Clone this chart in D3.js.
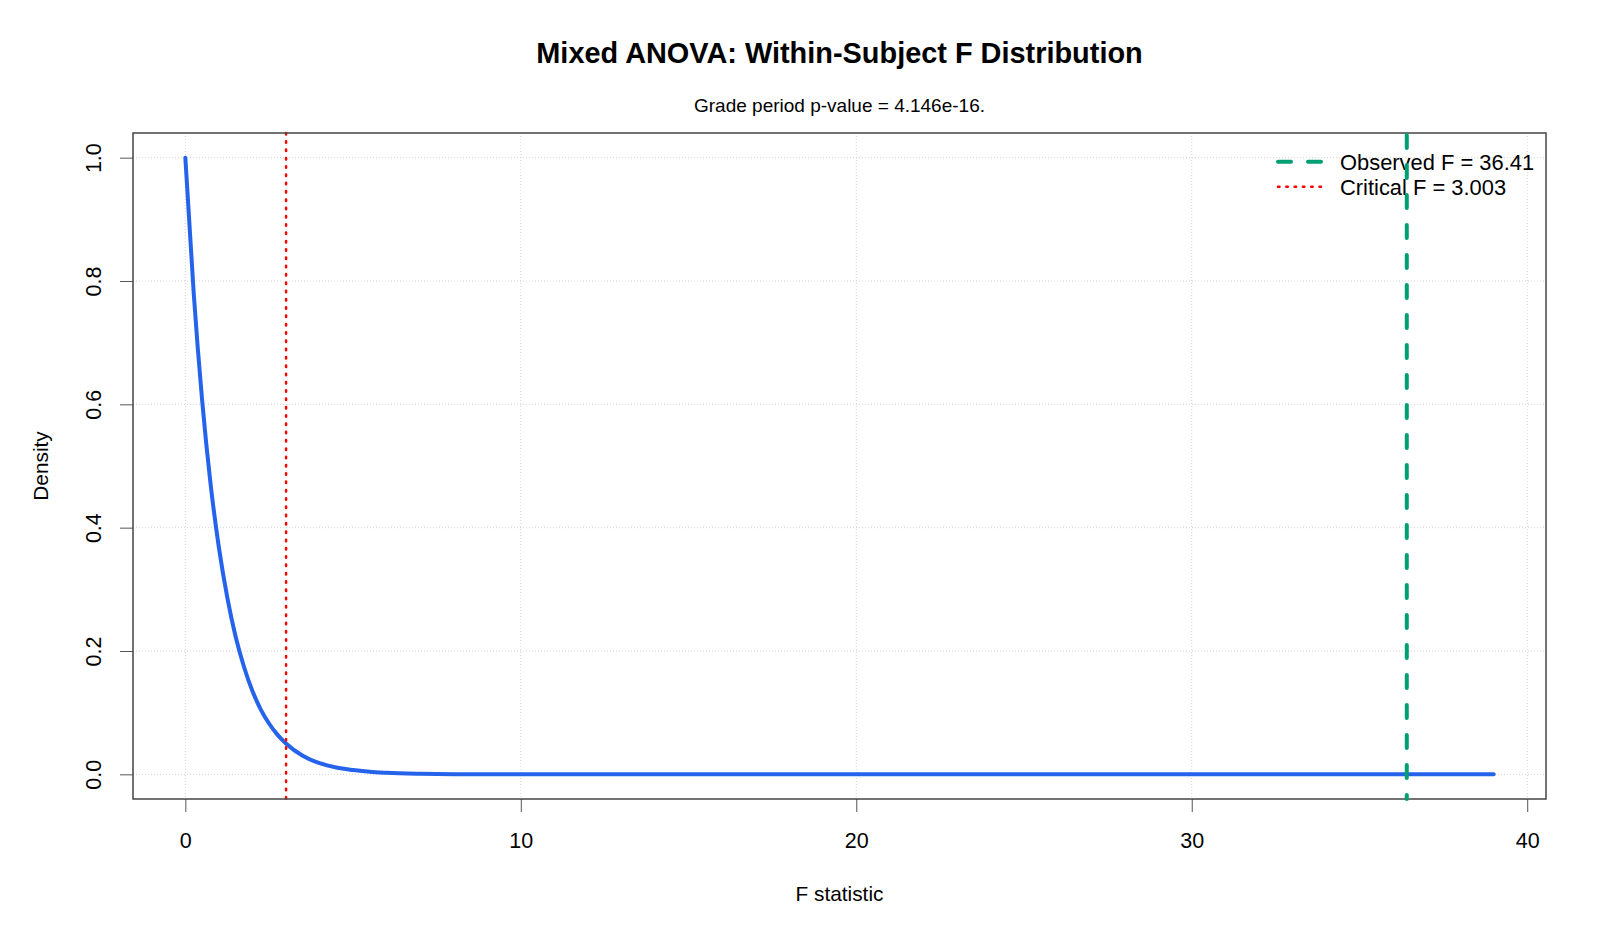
<!DOCTYPE html>
<html>
<head>
<meta charset="utf-8">
<script src="https://cdn.jsdelivr.net/npm/d3@7"></script>
<style>
  html, body { margin: 0; padding: 0; background: #fff; }
  svg { display: block; font-family: "Liberation Sans", Arial, sans-serif; }
</style>
</head>
<body>
<div id="container"></div>
<script>
// density curve
const fValues = [0, 0.25, 0.5, 0.75, 1, 1.25, 1.5, 1.75, 2, 2.25, 2.5, 2.75, 3, 3.5, 4, 4.5, 5, 5.5, 6, 7, 8, 10, 15, 20, 25, 30, 35, 39];
const density = [1.0, 0.78, 0.607, 0.472, 0.368, 0.287, 0.223, 0.174, 0.135, 0.105, 0.082, 0.064, 0.05, 0.03, 0.018, 0.011, 0.007, 0.004, 0.0025, 0.001, 0.0003, 0, 0, 0, 0, 0, 0, 0];
const xTicks = [0, 10, 20, 30, 40];
const yTicks = [0, 0.2, 0.4, 0.6, 0.8, 1.0];
const observedF = 36.41;
const criticalF = 3.003;
const legendLabels = ["Observed F = 36.41", "Critical F = 3.003"];
const titleText = "Mixed ANOVA: Within-Subject F Distribution";
const subtitleText = "Grade period p-value = 4.146e-16.";

const width = 1600, height = 933;
const plot = { left: 133, right: 1546, top: 133, bottom: 799 };
const colors = { curve: "#2563eb", observed: "#009e73", critical: "#ff0000", grid: "#d3d3d3", box: "#444" };

const svg = d3.select("#container").append("svg")
  .attr("width", width)
  .attr("height", height);

// R style 4% padding on both axes
const xExt = d3.extent(fValues), yExt = d3.extent(density);
const xPad = (xExt[1] - xExt[0]) * 0.04, yPad = (yExt[1] - yExt[0]) * 0.04;
const x = d3.scaleLinear([xExt[0] - xPad, xExt[1] + xPad], [plot.left, plot.right]);
const y = d3.scaleLinear([yExt[0] - yPad, yExt[1] + yPad], [plot.bottom, plot.top]);

// grid
const grid = svg.append("g")
  .attr("stroke", colors.grid)
  .attr("stroke-width", 1)
  .attr("stroke-dasharray", "1,2");
grid.selectAll(".gx").data(xTicks).join("line")
  .attr("x1", d => x(d)).attr("x2", d => x(d))
  .attr("y1", plot.top).attr("y2", plot.bottom);
grid.selectAll(".gy").data(yTicks).join("line")
  .attr("x1", plot.left).attr("x2", plot.right)
  .attr("y1", d => y(d)).attr("y2", d => y(d));

// curve
const points = fValues.map((f, i) => [f, density[i]]);
const line = d3.line()
  .x(d => x(d[0]))
  .y(d => y(d[1]))
  .curve(d3.curveMonotoneX);
svg.append("path")
  .datum(points)
  .attr("d", line)
  .attr("fill", "none")
  .attr("stroke", colors.curve)
  .attr("stroke-width", 4)
  .attr("stroke-linejoin", "round")
  .attr("stroke-linecap", "round");

// critical F line
svg.append("line")
  .attr("x1", x(criticalF)).attr("x2", x(criticalF))
  .attr("y1", plot.top).attr("y2", plot.bottom)
  .attr("stroke", colors.critical)
  .attr("stroke-width", 2.5)
  .attr("stroke-linecap", "round")
  .attr("stroke-dasharray", "1.5,6.8");

// axes
const xAxis = svg.append("g")
  .attr("transform", `translate(0,${plot.bottom})`)
  .call(d3.axisBottom(x).tickValues(xTicks).tickFormat(d3.format("d")).tickSize(13).tickPadding(21));
xAxis.select(".domain").remove();
xAxis.selectAll(".tick line").attr("stroke", "#555");
xAxis.selectAll("text").attr("font-size", 21.5).attr("fill", "#000").attr("font-family", null);

const yAxis = svg.append("g")
  .attr("transform", `translate(${plot.left},0)`)
  .call(d3.axisLeft(y).tickValues(yTicks).tickFormat(d3.format(".1f")).tickSize(13));
yAxis.select(".domain").remove();
yAxis.selectAll(".tick line").attr("stroke", "#555");
yAxis.selectAll("text")
  .attr("x", 0)
  .attr("dy", "0.35em")
  .attr("text-anchor", "middle")
  .attr("transform", "translate(-39.5,0) rotate(-90)")
  .attr("font-size", 21.5)
  .attr("fill", "#000")
  .attr("font-family", null);

// box
svg.append("rect")
  .attr("x", plot.left).attr("y", plot.top)
  .attr("width", plot.right - plot.left)
  .attr("height", plot.bottom - plot.top)
  .attr("fill", "none")
  .attr("stroke", colors.box)
  .attr("stroke-width", 1.5);

// legend
const legend = svg.append("g").attr("transform", "translate(1278,0)");
const legendRows = [
  { label: legendLabels[0], color: colors.observed, width: 4, dash: "13,17", y: 161.7 },
  { label: legendLabels[1], color: colors.critical, width: 2.5, dash: "1.5,6.8", y: 186.8 }
];
legendRows.forEach(r => {
  legend.append("line")
    .attr("x1", 0).attr("x2", 44)
    .attr("y1", r.y).attr("y2", r.y)
    .attr("stroke", r.color)
    .attr("stroke-width", r.width)
    .attr("stroke-linecap", "round")
    .attr("stroke-dasharray", r.dash);
  legend.append("text")
    .attr("x", 62).attr("y", r.y)
    .attr("dy", "0.36em")
    .attr("font-size", 21.9)
    .text(r.label);
});

// observed F line, drawn over the legend
svg.append("line")
  .attr("x1", x(observedF)).attr("x2", x(observedF))
  .attr("y1", plot.top + 2).attr("y2", plot.bottom)
  .attr("stroke", colors.observed)
  .attr("stroke-width", 4)
  .attr("stroke-linecap", "round")
  .attr("stroke-dasharray", "13,17");

// titles
const cx = (plot.left + plot.right) / 2;
svg.append("text")
  .attr("x", cx).attr("y", 63.3)
  .attr("text-anchor", "middle")
  .attr("font-size", 28.9)
  .attr("font-weight", "bold")
  .text(titleText);
svg.append("text")
  .attr("x", cx).attr("y", 112.3)
  .attr("text-anchor", "middle")
  .attr("font-size", 19)
  .text(subtitleText);
svg.append("text")
  .attr("x", cx).attr("y", 900.7)
  .attr("text-anchor", "middle")
  .attr("font-size", 20.8)
  .text("F statistic");
svg.append("text")
  .attr("transform", `translate(41,${(plot.top + plot.bottom) / 2}) rotate(-90)`)
  .attr("dy", "0.35em")
  .attr("text-anchor", "middle")
  .attr("font-size", 20.8)
  .text("Density");
</script>
</body>
</html>
